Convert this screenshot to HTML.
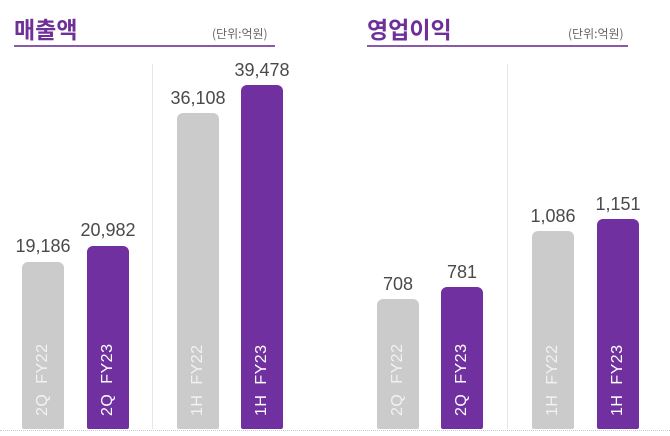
<!DOCTYPE html>
<html><head><meta charset="utf-8"><style>
body{margin:0;width:670px;height:436px;background:#fff;position:relative;overflow:hidden;font-family:"Liberation Sans","Noto Sans CJK KR",sans-serif}
.t{position:absolute;top:13px;font-size:23px;font-weight:bold;color:#6e2f98;font-family:"Noto Sans CJK KR",sans-serif;line-height:30px}
.u{position:absolute;top:25px;font-size:12px;color:#666;font-family:"Noto Sans CJK KR",sans-serif}
.ln{position:absolute;top:45px;height:2px;background:#8a5aa8}
.dv{position:absolute;top:64px;width:1px;height:365px;background:#e6e6e6}
.base{position:absolute;top:430px;left:0;width:670px;border-top:1px dotted #ccc}
.b{position:absolute;bottom:7px;width:42px;border-radius:6px 6px 2px 2px}
.g{background:#cbcbcb}.p{background:#7030a0}
.b span{position:absolute;left:50%;bottom:-5px;transform-origin:0 0;transform:rotate(-90deg) translate(0,-50%);white-space:nowrap;font-size:16px;color:#fff;letter-spacing:0.5px}
.g span{color:#f2f2f2}
.v{position:absolute;width:100px;text-align:center;font-size:18px;color:#4a4a4a}
</style></head><body>
<div class="t" style="left:14px">매출액</div>
<div class="u" style="left:212px">(단위:억원)</div>
<div class="ln" style="left:14px;width:261px"></div>
<div class="t" style="left:367px">영업이익</div>
<div class="u" style="left:568px">(단위:억원)</div>
<div class="ln" style="left:367px;width:261px"></div>
<div class="dv" style="left:152px"></div>
<div class="dv" style="left:507px"></div>
<div class="base"></div>

<div class="b g" style="left:22px;top:262px"><span>2Q&nbsp; FY22</span></div>
<div class="b p" style="left:87px;top:246px"><span>2Q&nbsp; FY23</span></div>
<div class="b g" style="left:177px;top:113px"><span>1H&nbsp; FY22</span></div>
<div class="b p" style="left:241px;top:85px"><span>1H&nbsp; FY23</span></div>
<div class="b g" style="left:377px;top:299px"><span>2Q&nbsp; FY22</span></div>
<div class="b p" style="left:441px;top:287px"><span>2Q&nbsp; FY23</span></div>
<div class="b g" style="left:532px;top:231px"><span>1H&nbsp; FY22</span></div>
<div class="b p" style="left:597px;top:219px"><span>1H&nbsp; FY23</span></div>

<div class="v" style="left:-7px;top:236px">19,186</div>
<div class="v" style="left:58px;top:220px">20,982</div>
<div class="v" style="left:148px;top:88px">36,108</div>
<div class="v" style="left:212px;top:60px">39,478</div>
<div class="v" style="left:348px;top:274px">708</div>
<div class="v" style="left:412px;top:262px">781</div>
<div class="v" style="left:503px;top:206px">1,086</div>
<div class="v" style="left:568px;top:194px">1,151</div>
</body></html>
